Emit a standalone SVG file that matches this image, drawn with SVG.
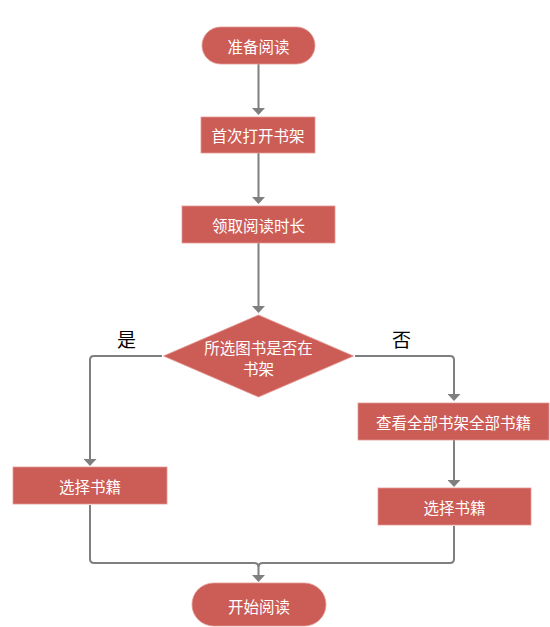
<svg xmlns="http://www.w3.org/2000/svg" width="550" height="627" viewBox="0 0 550 627">
<defs>
<style>
.n{fill:#CC5C56;stroke:#E39A95;stroke-width:0.8}
.t{fill:#FFFFFF;font-family:"Noto Sans CJK SC","Noto Sans",sans-serif;font-size:15.5px;text-anchor:middle;dominant-baseline:central}
.l{fill:#000000;font-family:"Noto Sans CJK SC","Noto Sans",sans-serif;font-size:19px;text-anchor:middle;dominant-baseline:central}
.c{fill:none;stroke:#7F7F7F;stroke-width:2;stroke-linejoin:round}
</style>
<marker id="ah" markerWidth="7" markerHeight="13" refX="4" refY="6.5" orient="auto" markerUnits="userSpaceOnUse" viewBox="0 0 7 13">
<path d="M0,0 L7,6.5 L0,13 Z" fill="#7F7F7F"/>
</marker>
</defs>
<rect width="550" height="627" fill="#FFFFFF"/>
<g id="connectors">
<path class="c" d="M258.5,64 V112" marker-end="url(#ah)"/>
<path class="c" d="M258.5,153 V201" marker-end="url(#ah)"/>
<path class="c" d="M258.5,243 V310" marker-end="url(#ah)"/>
<path class="c" d="M162,356 H94 Q90,356 90,360 V463" marker-end="url(#ah)"/>
<path class="c" d="M355,356 H450 Q454,356 454,360 V398" marker-end="url(#ah)"/>
<path class="c" d="M454,440 V484" marker-end="url(#ah)"/>
<path class="c" d="M90,505 V559 Q90,563 94,563 H254 Q258.5,563 258.5,567 V579" marker-end="url(#ah)"/>
<path class="c" d="M454,526 V559 Q454,563 450,563 H263 Q258.5,563 258.5,567"/>
</g>
<g id="start">
<rect class="n" x="202" y="27" width="113" height="37" rx="18.5"/>
<text class="t" x="258.5" y="45.5">准备阅读</text>
</g>
<g id="open-shelf">
<rect class="n" x="201" y="117" width="114" height="36"/>
<text class="t" x="258" y="135">首次打开书架</text>
</g>
<g id="get-time">
<rect class="n" x="182" y="206" width="153" height="37"/>
<text class="t" x="258.5" y="224.5">领取阅读时长</text>
</g>
<g id="decision">
<polygon class="n" points="258.5,315 353.5,356 258.5,397 163.5,356"/>
<text class="t" x="258.5" y="346.5">所选图书是否在</text>
<text class="t" x="258.5" y="368">书架</text>
</g>
<g id="labels">
<text class="l" x="126.5" y="338.5">是</text>
<text class="l" x="401.5" y="338.5">否</text>
</g>
<g id="select-left">
<rect class="n" x="13" y="467" width="154" height="37"/>
<text class="t" x="90" y="486">选择书籍</text>
</g>
<g id="view-all">
<rect class="n" x="358" y="403" width="191" height="37"/>
<text class="t" x="453.5" y="421.5">查看全部书架全部书籍</text>
</g>
<g id="select-right">
<rect class="n" x="378" y="488" width="153" height="37"/>
<text class="t" x="454.5" y="506.5">选择书籍</text>
</g>
<g id="end">
<rect class="n" x="192" y="583" width="134" height="43" rx="21.5"/>
<text class="t" x="259" y="606">开始阅读</text>
</g>
</svg>
